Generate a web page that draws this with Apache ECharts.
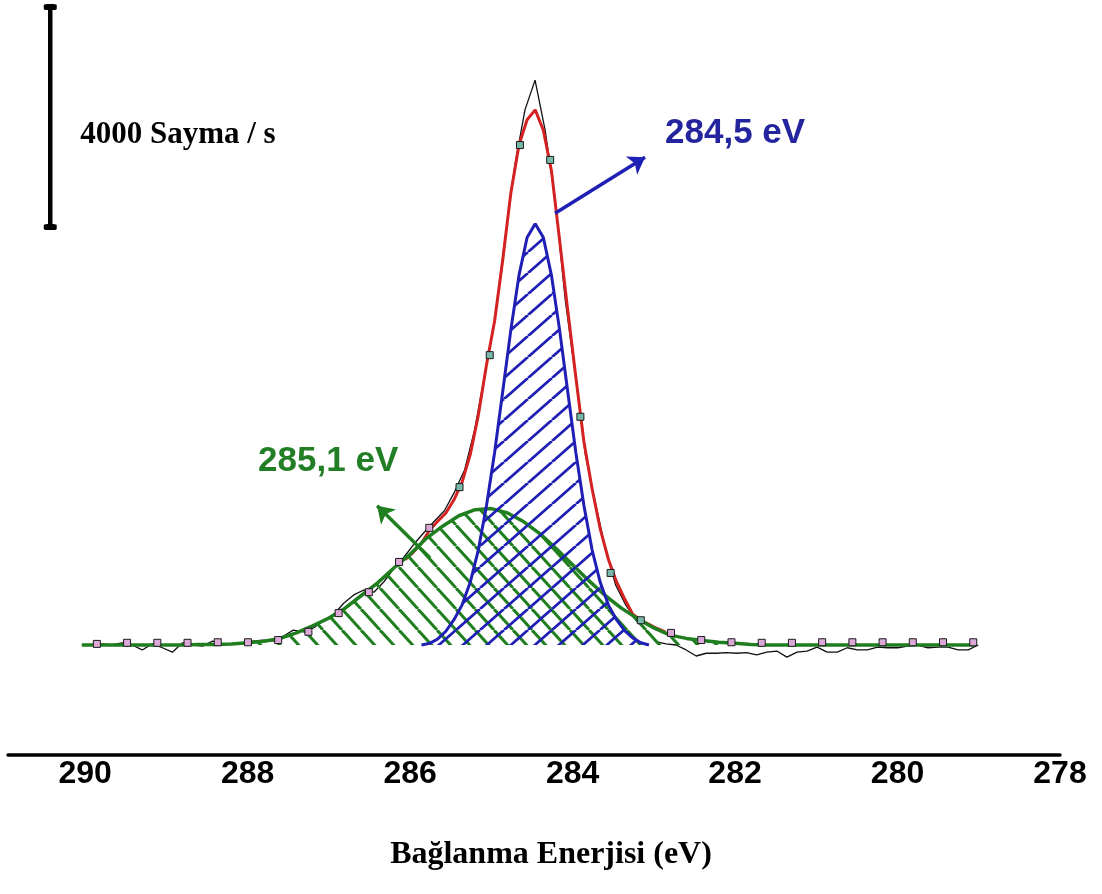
<!DOCTYPE html>
<html>
<head>
<meta charset="utf-8">
<script src="https://cdn.jsdelivr.net/npm/echarts@6/dist/echarts.min.js"></script>
<style>
  html, body { margin: 0; padding: 0; background: #ffffff; }
  #chart { width: 1102px; height: 894px; }
</style>
</head>
<body>
<div id="chart"></div>
<script>
// C 1s spectrum: binding energy (eV) vs intensity (counts/s above background)

// Measured spectrum
const rawEnergy = [
  290.042, 289.918, 289.794, 289.670, 289.546, 289.422, 289.298, 289.174, 289.050, 288.926,
  288.802, 288.678, 288.554, 288.430, 288.306, 288.182, 288.058, 287.934, 287.810, 287.686,
  287.562, 287.438, 287.314, 287.190, 287.066, 286.942, 286.818, 286.694, 286.570, 286.446,
  286.322, 286.198, 286.074, 285.950, 285.826, 285.702, 285.578, 285.454, 285.330, 285.206,
  285.082, 284.958, 284.834, 284.710, 284.586, 284.462, 284.338, 284.214, 284.090, 283.966,
  283.842, 283.718, 283.594, 283.470, 283.346, 283.222, 283.098, 282.974, 282.850, 282.726,
  282.602, 282.478, 282.354, 282.230, 282.106, 281.982, 281.858, 281.734, 281.610, 281.486,
  281.362, 281.238, 281.114, 280.990, 280.866, 280.742, 280.618, 280.494, 280.370, 280.246,
  280.122, 279.998, 279.874, 279.750, 279.626, 279.502, 279.378, 279.254, 279.130, 279.006
];
const rawCounts = [
  0, 0, 20, 0, 40, 0, -90, 20, -50, -130,
  40, 0, -20, 70, 20, 20, 40, 70, 90, 70,
  160, 270, 240, 310, 440, 550, 760, 910, 1000, 960,
  1150, 1400, 1600, 1840, 2050, 2250, 2440, 2780, 3180, 3910,
  4910, 5910, 7360, 8730, 9730, 10270, 9360, 8090, 6270, 4910,
  3450, 2580, 1730, 1090, 730, 450, 270, 60, 20, 0,
  -90, -200, -150, -150, -140, -150, -140, -180, -130, -110,
  -220, -130, -110, -40, -130, -130, -50, -90, -90, -40,
  -50, -50, -20, 0, -50, -40, -40, -90, -90, 0
];

// Marked data points
const markerEnergy = [
  289.856, 289.484, 289.112, 288.740, 288.368, 287.996, 287.624, 287.252, 286.880, 286.508,
  286.136, 285.764, 285.392, 285.020, 284.648, 284.276, 283.904, 283.532, 283.160, 282.788,
  282.416, 282.044, 281.672, 281.300, 280.928, 280.556, 280.184, 279.812, 279.440, 279.068
];
const markerCounts = [
  20, 40, 40, 40, 50, 50, 90, 240, 580, 960,
  1510, 2130, 2870, 5270, 9090, 8820, 4150, 1310, 450, 220,
  90, 50, 40, 40, 50, 50, 50, 50, 50, 50
];
const markerPeakRange = [283.1, 285.5];

// Fit envelope
const fitEnergy = [
  286.06, 285.96, 285.86, 285.76, 285.66, 285.56, 285.46, 285.36, 285.26, 285.16, 285.06,
  284.96, 284.86, 284.76, 284.66, 284.56, 284.46, 284.36, 284.26, 284.16, 284.06, 283.96,
  283.86, 283.76, 283.66, 283.56, 283.46, 283.36, 283.26, 283.16, 283.06, 282.96, 282.86
];
const fitCounts = [
  1550, 1690, 1850, 2090, 2250, 2400, 2640, 2960, 3460, 4180, 5090,
  5890, 7000, 8220, 9090, 9550, 9730, 9360, 8620, 7360, 6090, 4870,
  3690, 2840, 2110, 1560, 1150, 840, 560, 450, 375, 300, 240
];

// Component at 284,5 eV
const peakAEnergy = [
  285.86, 285.76, 285.66, 285.56, 285.46, 285.36, 285.26, 285.16, 285.06, 284.96,
  284.86, 284.76, 284.66, 284.56, 284.46, 284.36, 284.26, 284.16, 284.06, 283.96,
  283.86, 283.76, 283.66, 283.56, 283.46, 283.36, 283.26, 283.16, 283.06
];
const peakACounts = [
  0, 30, 110, 250, 460, 730, 1140, 1730, 2530, 3500,
  4610, 5730, 6720, 7410, 7660, 7410, 6720, 5730, 4610, 3500,
  2530, 1730, 1140, 730, 460, 260, 130, 40, 0
];

// Component at 285,1 eV (with flat background)
const peakBEnergy = [
  290.04, 288.8, 288.6, 288.4, 288.2, 288.0, 287.8, 287.6, 287.4, 287.2, 287.0,
  286.8, 286.6, 286.4, 286.2, 286.0, 285.8, 285.6, 285.4, 285.2, 285.0,
  284.8, 284.6, 284.4, 284.2, 284.0, 283.8, 283.6, 283.4, 283.2, 283.0,
  282.8, 282.6, 282.4, 282.2, 282.0, 281.8, 281.6, 279.05
];
const peakBCounts = [
  0, 0, 10, 10, 20, 40, 70, 120, 220, 350, 490,
  670, 900, 1130, 1400, 1650, 1940, 2160, 2350, 2460, 2480,
  2400, 2240, 2020, 1750, 1460, 1170, 900, 670, 480, 310,
  180, 120, 80, 50, 30, 10, 0, 0
];

// Axis ticks and annotations
const energyTicks = [278, 280, 282, 284, 286, 288, 290];
const peakLabels = ['284,5 eV', '285,1 eV'];
const peakLabelAnchors = [[282.862, 9300], [287.871, 3340]];
const arrowA = [[284.215, 7850], [283.108, 8870]];
const arrowB = [[285.754, 1580], [286.406, 2530]];
const scaleBarEnergy = 290.43;
const scaleBarCounts = [7600, 11600];
const scaleLabel = '4000 Sayma / s';
const scaleLabelAnchor = [290.062, 9270];
const axisTitle = 'Bağlanma Enerjisi (eV)';

const BLUE = '#1f1fb6';
const GREEN = '#1f7f1f';
const RED = '#d42222';

function zip(xs, ys) { return xs.map((x, i) => [x, ys[i]]); }

// Tiled diagonal hatch; dir '/' rises to the right, '\\' falls to the right
function hatch(w, h, color, lw, dir) {
  const c = document.createElement('canvas');
  c.width = w; c.height = h;
  const g = c.getContext('2d');
  g.strokeStyle = color;
  g.lineWidth = lw;
  for (const off of [-w, 0, w]) {
    g.beginPath();
    if (dir === '/') { g.moveTo(off, h); g.lineTo(off + w, 0); }
    else { g.moveTo(off, 0); g.lineTo(off + w, h); }
    g.stroke();
  }
  return c;
}

const chart = echarts.init(document.getElementById('chart'), null, { renderer: 'canvas' });

const markerData = markerEnergy.map((e, i) => {
  const inPeak = e > markerPeakRange[0] && e < markerPeakRange[1];
  return {
    value: [e, markerCounts[i]],
    itemStyle: { color: inPeak ? '#78b8aa' : '#dca8d8', opacity: 1 }
  };
});

const labelBase = { show: true, position: 'right', distance: 0, formatter: '{b}', align: 'left', verticalAlign: 'middle', opacity: 1 };

const option = {
  animation: false,
  backgroundColor: '#ffffff',
  title: {
    text: axisTitle,
    left: 'center',
    top: 834,
    textStyle: { fontFamily: 'Liberation Serif', fontWeight: 'bold', fontSize: 32, color: '#000' }
  },
  grid: { left: 8, right: 42, top: 7, bottom: 139, containLabel: false, outerBoundsMode: 'none' },
  xAxis: {
    type: 'value',
    inverse: true,
    min: 278,
    max: 290.95,
    interval: 2,
    axisLine: { show: true, onZero: false, lineStyle: { color: '#000', width: 3.5 } },
    axisTick: { show: false },
    splitLine: { show: false },
    axisLabel: {
      margin: 3,
      fontFamily: 'Liberation Sans',
      fontWeight: 'bold',
      fontSize: 32,
      color: '#000',
      formatter: v => (energyTicks.indexOf(Math.round(v * 1000) / 1000) >= 0 ? String(v) : '')
    }
  },
  yAxis: { type: 'value', min: -2000, max: 11600, show: false },
  series: [
    {
      name: 'data', type: 'line', z: 1, symbol: 'none', silent: true,
      data: zip(rawEnergy, rawCounts),
      lineStyle: { color: '#111', width: 1.3 }
    },
    {
      name: 'fit', type: 'line', z: 2, symbol: 'none', silent: true,
      data: zip(fitEnergy, fitCounts),
      lineStyle: { color: RED, width: 3 }
    },
    {
      name: 'C2', type: 'line', z: 3, symbol: 'none', silent: true,
      data: zip(peakBEnergy, peakBCounts),
      lineStyle: { color: GREEN, width: 3.5 },
      areaStyle: { color: { image: hatch(19, 21, GREEN, 3, '\\'), repeat: 'repeat' }, opacity: 1 }
    },
    {
      name: 'C1', type: 'line', z: 4, symbol: 'none', silent: true,
      data: zip(peakAEnergy, peakACounts),
      lineStyle: { color: BLUE, width: 3 },
      areaStyle: { color: { image: hatch(24, 21, BLUE, 2.8, '/'), repeat: 'repeat' }, opacity: 1 }
    },
    {
      name: 'points', type: 'scatter', z: 6, silent: true,
      symbol: 'rect', symbolSize: 7,
      itemStyle: { borderColor: '#1a1a1a', borderWidth: 1, opacity: 1 },
      data: markerData
    },
    {
      name: 'scale', type: 'line', z: 6, silent: true,
      symbol: 'roundRect', symbolSize: [13, 6],
      itemStyle: { color: '#000', opacity: 1 },
      lineStyle: { color: '#000', width: 4.5 },
      data: scaleBarCounts.map(c => [scaleBarEnergy, c])
    },
    {
      name: 'notes', type: 'scatter', z: 7, silent: true,
      symbol: 'circle', symbolSize: 0,
      itemStyle: { color: '#ffffff', opacity: 1 },
      label: labelBase,
      data: [
        {
          name: peakLabels[0], value: peakLabelAnchors[0],
          label: Object.assign({}, labelBase, { color: '#24249f', fontFamily: 'Liberation Sans', fontWeight: 'bold', fontSize: 35 })
        },
        {
          name: peakLabels[1], value: peakLabelAnchors[1],
          label: Object.assign({}, labelBase, { color: '#237f25', fontFamily: 'Liberation Sans', fontWeight: 'bold', fontSize: 35 })
        },
        {
          name: scaleLabel, value: scaleLabelAnchor,
          label: Object.assign({}, labelBase, { color: '#000000', fontFamily: 'Liberation Serif', fontWeight: 'bold', fontSize: 31 })
        }
      ],
      markLine: {
        silent: true,
        animation: false,
        symbol: ['none', 'arrow'],
        symbolSize: 16,
        label: { show: false },
        emphasis: { disabled: true },
        lineStyle: { width: 3.5, type: 'solid', opacity: 1 },
        data: [
          [
            { coord: arrowA[0], lineStyle: { color: BLUE, width: 3.5, type: 'solid' }, itemStyle: { color: BLUE } },
            { coord: arrowA[1], itemStyle: { color: BLUE } }
          ],
          [
            { coord: arrowB[0], lineStyle: { color: GREEN, width: 3.5, type: 'solid' }, itemStyle: { color: GREEN } },
            { coord: arrowB[1], itemStyle: { color: GREEN } }
          ]
        ]
      }
    }
  ]
};

chart.setOption(option);
</script>
</body>
</html>
